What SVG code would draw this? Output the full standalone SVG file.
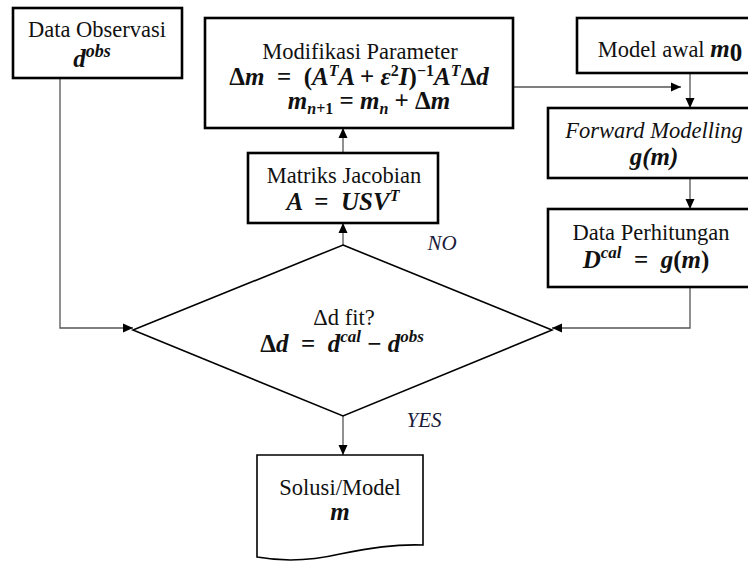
<svg xmlns="http://www.w3.org/2000/svg" width="748" height="562" viewBox="0 0 748 562">
<style>
.box{fill:#fff;stroke:#000;stroke-width:2.6}
.shape{fill:#fff;stroke:#000;stroke-width:1.6}
.t{font-family:"Liberation Serif","Times New Roman",serif;font-size:22.5px;fill:#111}
.m{font-family:"Liberation Serif","Times New Roman",serif;font-size:25px;font-weight:bold;font-style:italic;fill:#111}
.lab{font-family:"Liberation Serif","Times New Roman",serif;font-size:21px;font-style:italic;fill:#1a1a3a}
.c{fill:none;stroke:#555;stroke-width:1.3}
.up{font-style:normal}
</style>
<defs>
<marker id="ah" viewBox="0 0 10 10" refX="10" refY="5" markerWidth="10" markerHeight="10" markerUnits="userSpaceOnUse" orient="auto">
<path d="M0,0.5 L10,5 L0,9.5 Z" fill="#000"/>
</marker>
</defs>
<g id="connectors">
<path class="c" d="M60,78 V328 H133" marker-end="url(#ah)"/>
<path class="c" d="M690,287 V328 H552" marker-end="url(#ah)"/>
<path class="c" d="M343,245 V223" marker-end="url(#ah)"/>
<path class="c" d="M343,153 V128" marker-end="url(#ah)"/>
<path class="c" d="M513,87 H681" marker-end="url(#ah)"/>
<path class="c" d="M690,73 V108" marker-end="url(#ah)"/>
<path class="c" d="M690,178 V209" marker-end="url(#ah)"/>
<path class="c" d="M343,416 V455" marker-end="url(#ah)"/>
</g>
<g id="data-observasi">
<rect class="box" x="13" y="8" width="169" height="70"/>
<text class="t" x="97" y="37" text-anchor="middle">Data Observasi</text>
<text class="m" x="92" y="67" text-anchor="middle" font-size="28">d<tspan dy="-10" font-size="18">obs</tspan></text>
</g>
<g id="modifikasi-parameter">
<rect class="box" x="205" y="18" width="308" height="110"/>
<text class="t" x="360" y="59" text-anchor="middle">Modifikasi Parameter</text>
<text class="m" x="359" y="85" text-anchor="middle" font-size="24.5" xml:space="preserve"><tspan class="up">Δ</tspan>m  <tspan class="up">=</tspan>  <tspan class="up">(</tspan>A<tspan dy="-9" font-size="16">T</tspan><tspan dy="9">A <tspan class="up">+</tspan> ε</tspan><tspan dy="-9" font-size="16" class="up">2</tspan><tspan dy="9">I<tspan class="up">)</tspan></tspan><tspan dy="-9" font-size="16" class="up">−1</tspan><tspan dy="9">A</tspan><tspan dy="-9" font-size="16">T</tspan><tspan dy="9" class="up">Δ</tspan>d</text>
<text class="m" x="369" y="109" text-anchor="middle" font-size="24">m<tspan dy="5" font-size="16">n<tspan class="up">+1</tspan></tspan><tspan dy="-5"> <tspan class="up">=</tspan> m</tspan><tspan dy="5" font-size="16">n</tspan><tspan dy="-5"> <tspan class="up">+ Δ</tspan>m</tspan></text>
</g>
<g id="model-awal">
<rect class="box" x="577" y="18" width="185" height="55"/>
<text class="t" x="670" y="57" text-anchor="middle">Model awal <tspan class="m" font-size="26">m</tspan><tspan class="m up" font-size="16" dy="4">0</tspan></text>
</g>
<g id="forward-modelling">
<rect class="box" x="548" y="108" width="214" height="70"/>
<text class="t" x="654" y="138" text-anchor="middle" font-style="italic">Forward Modelling</text>
<text class="m" x="654" y="165" text-anchor="middle" font-size="23">g(m)</text>
</g>
<g id="data-perhitungan">
<rect class="box" x="548" y="209" width="214" height="78"/>
<text class="t" x="651" y="240" text-anchor="middle">Data Perhitungan</text>
<text class="m" x="646" y="268" text-anchor="middle" xml:space="preserve">D<tspan dy="-10" font-size="17">cal</tspan><tspan dy="10" class="up">  =  </tspan>g<tspan class="up">(</tspan>m<tspan class="up">)</tspan></text>
</g>
<g id="matriks-jacobian">
<rect class="box" x="248" y="153" width="190" height="70"/>
<text class="t" x="344" y="183" text-anchor="middle">Matriks Jacobian</text>
<text class="m" x="343" y="210" text-anchor="middle" font-size="24" xml:space="preserve">A  <tspan class="up">=</tspan>  USV<tspan dy="-9" font-size="16">T</tspan></text>
</g>
<g id="decision">
<polygon class="shape" points="343,245 552,330 343,416 133,330"/>
<text class="t" x="344" y="325" text-anchor="middle">Δd fit?</text>
<text class="m" x="342" y="352" text-anchor="middle" xml:space="preserve"><tspan class="up">Δ</tspan>d  <tspan class="up">=</tspan>  d<tspan dy="-10" font-size="17">cal</tspan><tspan dy="10" class="up"> − </tspan>d<tspan dy="-10" font-size="17">obs</tspan></text>
<text class="lab" x="442" y="250" text-anchor="middle">NO</text>
<text class="lab" x="424" y="427" text-anchor="middle">YES</text>
</g>
<g id="solusi-model">
<path class="shape" d="M257,455 H423 V545 C395,544 370,548 340,554 C310,561 285,562 257,557 Z"/>
<text class="t" x="340" y="495" text-anchor="middle">Solusi/Model</text>
<text class="m" x="340" y="520" text-anchor="middle" font-size="23">m</text>
</g>
</svg>
